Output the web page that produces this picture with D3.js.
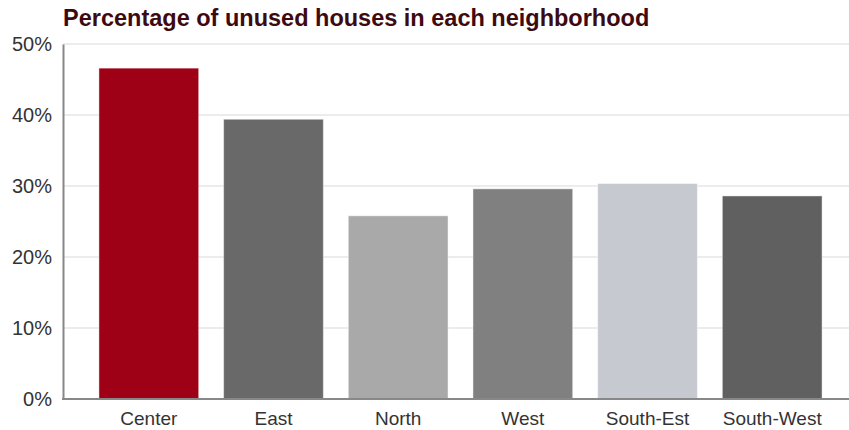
<!DOCTYPE html>
<html><head><meta charset="utf-8">
<script src="https://cdn.jsdelivr.net/npm/d3@7"></script>
<style>body{margin:0;background:#fff;} svg{display:block;font-family:"Liberation Sans",Arial,sans-serif;}</style>
</head><body><svg id="c" width="849" height="430"></svg>
<script>
const categories = ["Center","East","North","West","South-Est","South-West"];
const values = [46.6, 39.4, 25.8, 29.6, 30.35, 28.6];
const colors = ["#9e0016","#696969","#a9a9a9","#808080","#c6c9d0","#606060"];
const yTicks = [0,10,20,30,40,50];
const title = "Percentage of unused houses in each neighborhood";

const svg = d3.select("#c");
const x0 = 63, x1 = 849, yTop = 44, yBot = 399;
const x = d3.scaleBand().domain(categories).range([74, 847]).paddingInner(0.2).paddingOuter(0.2);
const y = d3.scaleLinear().domain([0,50]).range([yBot, yTop]);

// gridlines
svg.append("g").selectAll("line").data(yTicks.filter(d=>d>0)).join("line")
  .attr("x1", x0).attr("x2", x1).attr("y1", d=>y(d)).attr("y2", d=>y(d))
  .attr("stroke", "#e6e6e6").attr("stroke-width", 1.5);

// bars
svg.append("g").selectAll("rect").data(categories).join("rect")
  .attr("x", d=>x(d)).attr("width", x.bandwidth())
  .attr("y", (d,i)=>y(values[i])).attr("height", (d,i)=>yBot - y(values[i]))
  .attr("fill", (d,i)=>colors[i])
  .attr("stroke", "#fff").attr("stroke-opacity", 0.45).attr("stroke-width", 1);

// y axis
const ya = svg.append("g").attr("transform", `translate(${x0},0)`)
  .call(d3.axisLeft(y).tickValues(yTicks).tickFormat(d=>d+"%").tickSize(0).tickPadding(11));
ya.select(".domain").attr("stroke", "#888").attr("stroke-width", 2);
ya.selectAll("text").attr("font-size", 20).attr("fill", "#333").attr("font-family", "Liberation Sans, Arial, sans-serif");

// x axis
const xa = svg.append("g").attr("transform", `translate(0,${yBot})`)
  .call(d3.axisBottom(x).tickSize(0).tickPadding(12.5));
xa.select(".domain").remove();
svg.append("line").attr("x1", x0-1).attr("x2", x1).attr("y1", yBot).attr("y2", yBot)
  .attr("stroke", "#888").attr("stroke-width", 2);
xa.selectAll("text").attr("font-size", 19).attr("fill", "#333").attr("font-family", "Liberation Sans, Arial, sans-serif");

// title
svg.append("text").attr("x", x0).attr("y", 26).text(title)
  .attr("font-size", 23.5).attr("font-weight", "bold").attr("fill", "#3d0a10");
</script></body></html>
